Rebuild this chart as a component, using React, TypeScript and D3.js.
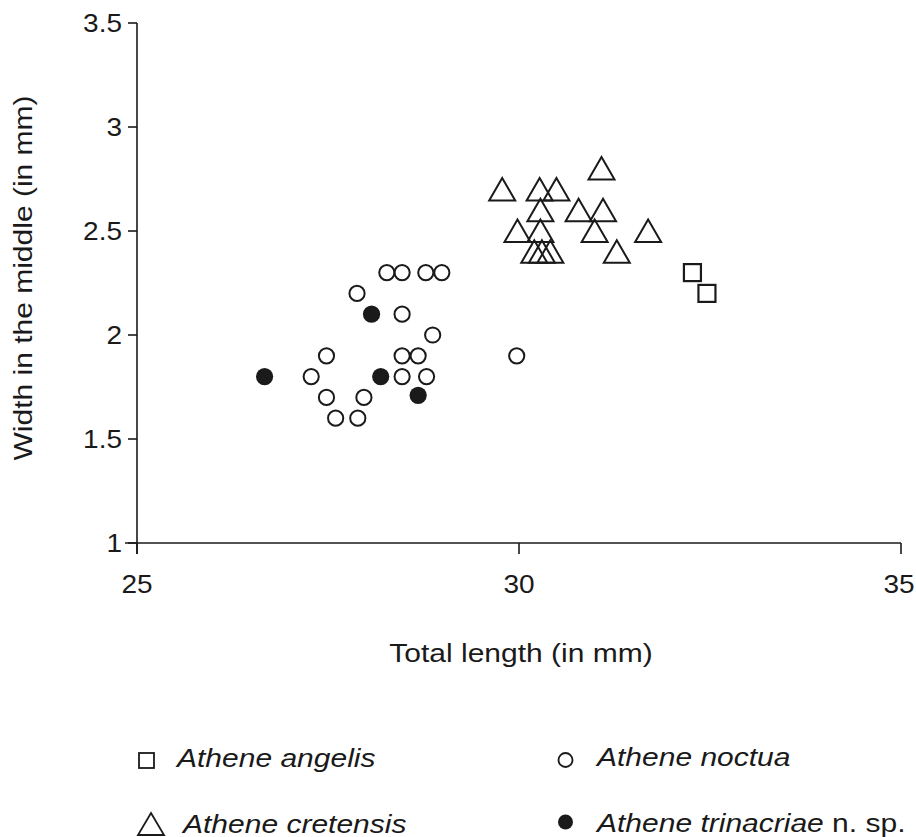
import React from "react";
import * as d3 from "d3";

const noctua: [number, number][] = [
  [28.27, 2.3], [28.47, 2.3], [28.78, 2.3], [28.99, 2.3], [27.88, 2.2], [28.47, 2.1],
  [28.87, 2.0], [27.48, 1.9], [28.47, 1.9], [28.68, 1.9], [29.97, 1.9], [27.28, 1.8],
  [28.47, 1.8], [28.79, 1.8], [27.48, 1.7], [27.97, 1.7], [27.6, 1.6], [27.89, 1.6],
];
const trinacriae: [number, number][] = [
  [28.07, 2.1], [26.67, 1.8], [28.19, 1.8], [28.68, 1.71],
];
const cretensis: [number, number][] = [
  [29.78, 2.7], [30.27, 2.7], [30.49, 2.7], [31.08, 2.8], [30.28, 2.6], [30.78, 2.6],
  [31.1, 2.6], [29.98, 2.5], [30.28, 2.5], [30.99, 2.5], [31.69, 2.5], [30.2, 2.4],
  [30.3, 2.4], [30.41, 2.4], [31.28, 2.4],
];
const angelis: [number, number][] = [
  [32.27, 2.3], [32.46, 2.2],
];
const xTicks = [25, 30, 35];
const yTicks = [1, 1.5, 2, 2.5, 3, 3.5];
const yTickLabels = ["1", "1.5", "2", "2.5", "3", "3.5"];

const FONT = "'Liberation Sans', Arial, sans-serif";
const SX = 1.2;
const SX_TICK = 1.12;
const INK = "#1a1a1a";

export default function App() {
  const x = d3.scaleLinear().domain([25, 35]).range([137, 901]);
  const y = d3.scaleLinear().domain([1, 3.5]).range([543, 23]);
  const tri = "M0,-11.5L13,11L-13,11Z";
  const triLegend = "M0,-11L13,11L-13,11Z";

  const T = (props: { x: number; y: number; anchor?: string; italic?: boolean; sx?: number; children: React.ReactNode }) => (
    <text
      transform={`translate(${props.x},${props.y}) scale(${props.sx || SX},1)`}
      textAnchor={props.anchor || "start"}
      fontFamily={FONT}
      fontSize={25}
      fontStyle={props.italic ? "italic" : "normal"}
      fill={INK}
    >
      {props.children}
    </text>
  );

  return (
    <svg width={916} height={837} style={{ position: "absolute", left: 0, top: 0, background: "#fff" }}>
      <rect x={0} y={0} width={916} height={837} fill="#fff" />
      {/* axes */}
      <line x1={x(25)} x2={x(25)} y1={y(3.5)} y2={y(1) + 11} stroke={INK} strokeWidth={1.6} />
      <line x1={x(25) - 12} x2={x(35)} y1={y(1)} y2={y(1)} stroke={INK} strokeWidth={1.6} />
      {yTicks.map((t, i) => (
        <g key={"yt" + i}>
          <line x1={x(25) - 9} x2={x(25)} y1={y(t)} y2={y(t)} stroke={INK} strokeWidth={1.6} />
          <T x={122} y={y(t) + 9} anchor="end" sx={SX_TICK}>{yTickLabels[i]}</T>
        </g>
      ))}
      {xTicks.map((t) => (
        <g key={"xt" + t}>
          <line x1={x(t)} x2={x(t)} y1={y(1)} y2={y(1) + 11} stroke={INK} strokeWidth={1.6} />
          <T x={t === 35 ? x(t) - 2 : x(t)} y={593} anchor="middle" sx={SX_TICK}>{t}</T>
        </g>
      ))}
      <T x={(x(25) + x(35)) / 2 + 2} y={662} anchor="middle">Total length (in mm)</T>
      <text
        transform={`translate(32,278) rotate(-90) scale(${SX},1)`}
        textAnchor="middle"
        fontFamily={FONT}
        fontSize={25}
        fill={INK}
      >
        Width in the middle (in mm)
      </text>

      {/* points */}
      {noctua.map((d, i) => (
        <circle key={"n" + i} cx={x(d[0])} cy={y(d[1])} r={7.6} fill="none" stroke={INK} strokeWidth={2} />
      ))}
      {trinacriae.map((d, i) => (
        <circle key={"t" + i} cx={x(d[0])} cy={y(d[1])} r={8.6} fill={INK} />
      ))}
      {cretensis.map((d, i) => (
        <path key={"c" + i} d={tri} transform={`translate(${x(d[0])},${y(d[1])})`} fill="none" stroke={INK} strokeWidth={2} strokeLinejoin="miter" />
      ))}
      {angelis.map((d, i) => (
        <rect key={"a" + i} x={x(d[0]) - 8.5} y={y(d[1]) - 8.5} width={17} height={17} fill="none" stroke={INK} strokeWidth={2.2} />
      ))}

      {/* legend */}
      <rect x={139} y={753} width={15} height={15} fill="none" stroke={INK} strokeWidth={1.8} />
      <T x={177} y={767} italic>Athene angelis</T>
      <circle cx={565.5} cy={760} r={7} fill="none" stroke={INK} strokeWidth={1.8} />
      <T x={597} y={766} italic>Athene noctua</T>
      <path d={triLegend} transform="translate(151,824)" fill="none" stroke={INK} strokeWidth={1.8} />
      <T x={183} y={833} italic>Athene cretensis</T>
      <circle cx={565.5} cy={822} r={7.5} fill={INK} />
      <text
        transform={`translate(597,832) scale(${SX},1)`}
        fontFamily={FONT}
        fontSize={25}
        fill={INK}
      >
        <tspan fontStyle="italic">Athene trinacriae</tspan>
        <tspan> n. sp.</tspan>
      </text>
    </svg>
  );
}
